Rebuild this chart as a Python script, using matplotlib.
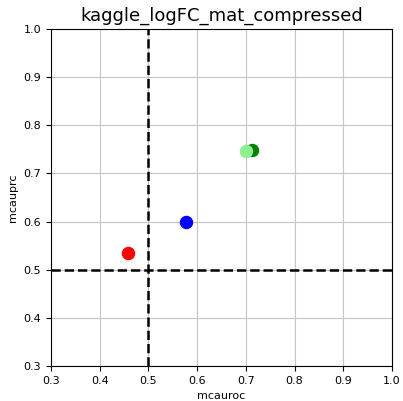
import matplotlib
matplotlib.use("Agg")
import matplotlib.pyplot as plt

# points (mcauroc, mcauprc)
colors = ["red", "blue", "green", "lightgreen"]
mcauroc = [0.458, 0.577, 0.712, 0.700]
mcauprc = [0.534, 0.600, 0.748, 0.746]

fig = plt.figure(figsize=(4.03, 4.01), dpi=100)
ax = fig.add_axes([51/403, 35/401, 341/403, 337/401])

for x, y, c in zip(mcauroc, mcauprc, colors):
    ax.scatter(x, y, color=c, s=75, zorder=3)

ax.axvline(0.5, color="black", linestyle="--", lw=1.8, zorder=2)
ax.axhline(0.5, color="black", linestyle="--", lw=1.8, zorder=2)

ax.set_xlim(0.3, 1.0)
ax.set_ylim(0.3, 1.0)
ax.grid(True, color="#c4c4c4", lw=0.8)
ax.set_axisbelow(True)
ax.tick_params(labelsize=8)
ax.set_xlabel("mcauroc", fontsize=8)
ax.set_ylabel("mcauprc", fontsize=8)
ax.set_title("kaggle_logFC_mat_compressed", fontsize=13)

fig.savefig("out.png", dpi=100)
